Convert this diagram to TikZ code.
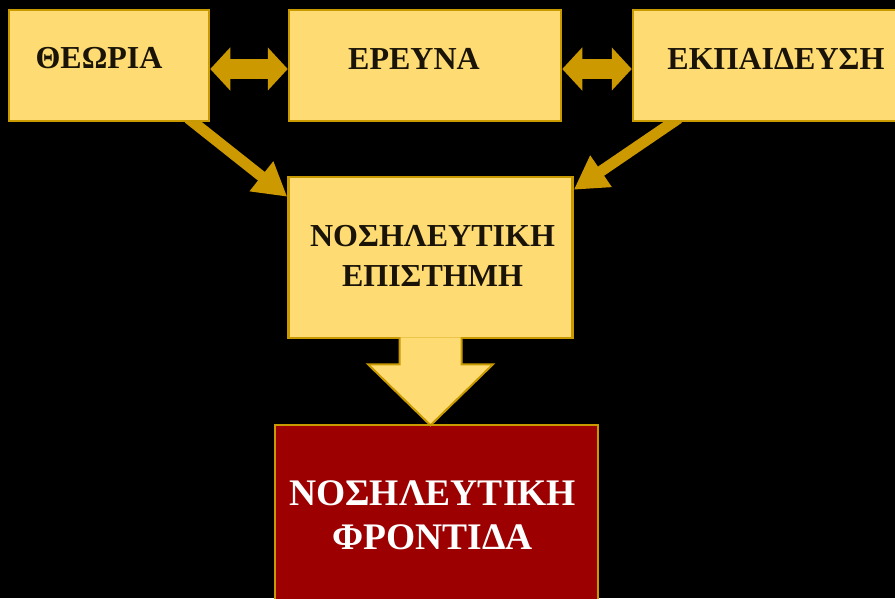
\documentclass[tikz,border=0pt]{standalone}
\usepackage{fontspec}
\setmainfont{Liberation Serif}
\usetikzlibrary{arrows.meta,backgrounds}

\definecolor{paleyellow}{HTML}{FFDC73}
\definecolor{darkgold}{HTML}{C99A00}
\definecolor{arrowgold}{HTML}{CC9900}
\definecolor{deepred}{HTML}{9C0000}
\definecolor{inkdark}{HTML}{1A1408}

\tikzset{
  box/.style={draw=darkgold, line width=2.5pt, fill=paleyellow, inner sep=0pt},
  redbox/.style={box, fill=deepred},
  lbl/.style={font=\bfseries\fontsize{32}{40}\selectfont, text=inkdark, align=center, inner sep=0pt},
  biglbl/.style={font=\bfseries\fontsize{37.5}{44}\selectfont, text=white, align=center, inner sep=0pt},
  twoway/.style={draw=arrowgold, line width=20pt,
    {Triangle[length=20pt,width=42pt]}-{Triangle[length=20pt,width=42pt]}},
  oneway/.style={draw=arrowgold, line width=11pt, -{Triangle[length=33pt,width=36pt]}}
}

\begin{document}
\begin{tikzpicture}[x=1pt,y=-1pt]
    
    \useasboundingbox (0,0) rectangle (895,598);
    \clip (0,0) rectangle (895,598);
    
    % top row
    \node[box, minimum width=200pt, minimum height=111pt] (theoria) at (109,65.5) {};
    \node[box, minimum width=272pt, minimum height=111pt] (ereuna) at (425,65.5) {};
    \node[box, minimum width=306pt, minimum height=111pt] (ekpaideusi) at (786,65.5) {};
    \node[lbl] (theorialbl) at ([xshift=-10pt,yshift=7pt]theoria.center) {ΘΕΩΡΙΑ};
    \node[lbl] (ereunalbl) at ([xshift=-11pt,yshift=7pt]ereuna.center) {ΕΡΕΥΝΑ};
    \node[lbl] (ekpaideusilbl) at ([xshift=-10pt,yshift=7pt]ekpaideusi.center) {ΕΚΠΑΙΔΕΥΣΗ};
    
    % middle and bottom
    \node[box, minimum width=284pt, minimum height=161pt] (episteme) at (430.5,257.5) {};
    \node[lbl] (epistemelbl) at ([xshift=2pt,yshift=2pt]episteme.center) {ΝΟΣΗΛΕΥΤΙΚΗ\\ΕΠΙΣΤΗΜΗ};
    \node[redbox, minimum width=323pt, minimum height=180pt] (frontida) at (436.5,515) {};
    \node[biglbl] (frontidalbl) at ([xshift=-4pt,yshift=0pt]frontida.center) {ΝΟΣΗΛΕΥΤΙΚΗ\\ΦΡΟΝΤΙΔΑ};
    
    % arrows between boxes, behind them
    \begin{pgfonlayer}{background}
    \fill[black] (0,0) rectangle (895,598);
    \draw[twoway] ([yshift=-3.5pt]theoria.east) -- ([yshift=-3.5pt]ereuna.west);
    \draw[twoway] ([yshift=-3.5pt]ereuna.east) -- ([yshift=-3.5pt]ekpaideusi.west);
    \draw[oneway] ([xshift=-22pt,yshift=4pt]theoria.south east) -- ([yshift=-21pt]episteme.north west);
    \draw[oneway] ([xshift=47pt,yshift=4pt]ekpaideusi.south west) -- ([yshift=-14pt]episteme.north east);
    \end{pgfonlayer}
    
    % block arrow down
    \filldraw[fill=paleyellow, draw=darkgold, line width=2pt]
      ([xshift=-31pt,yshift=2pt]episteme.south) -- ++(0,27) -- ++(-31.5,0)
      -- ++(62.5,61) -- ++(62.5,-61) -- ++(-31.5,0) -- ++(0,-27);
    
    \end{tikzpicture}
\end{document}
